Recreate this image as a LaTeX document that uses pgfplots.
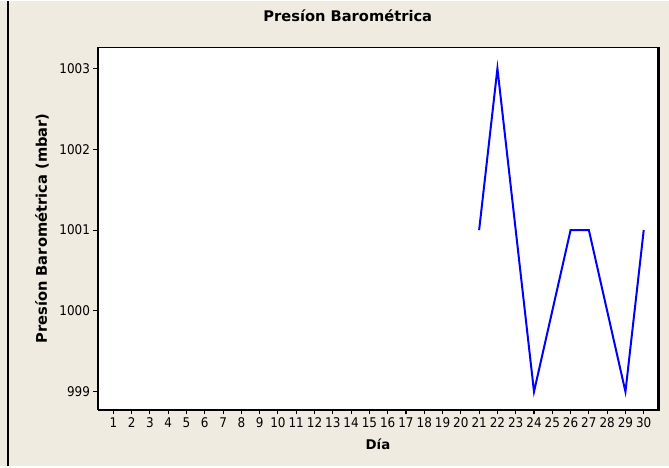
\documentclass[border=0pt]{standalone}
\usepackage{fontspec}
\setmainfont{DejaVu Sans}
\newfontfamily\condfont{DejaVu Sans Condensed}
\usepackage{pgfplots}
\pgfplotsset{compat=1.18}
\usetikzlibrary{backgrounds}
\definecolor{panel}{RGB}{239,235,224}

\pgfplotstableread{
dia presion
21 1001
22 1003
23 1001
24 999
25 1000
26 1001
27 1001
28 1000
29 999
30 1001
}\presion

\begin{document}
\begin{tikzpicture}
\begin{axis}[
    name=ax,
    scale only axis,
    width=420pt, height=271.5pt,
    xmin=0.16, xmax=30.78,
    ymin=998.78, ymax=1003.26,
    xtick={1,...,30},
    ytick={999,1000,1001,1002,1003},
    xtick pos=left, ytick pos=left,
    tick align=outside,
    major tick length=3.5pt,
    tick style={black, line width=0.8pt},
    axis line style={line width=0.9pt},
    axis background/.style={fill=white},
    /pgf/number format/assume math mode=true,
    /pgf/number format/set thousands separator={},
    ticklabel style={font=\condfont\fontsize{10}{12}\selectfont},
    xticklabel style={yshift=1pt},
    yticklabel style={xshift=1pt},
    title={Presíon Barométrica},
    title style={font=\bfseries\fontsize{11}{13}\selectfont,
        at={(axis description cs:0.446,1.066)}, anchor=center},
    xlabel={Día},
    xlabel style={font=\bfseries\fontsize{10}{12}\selectfont,
        at={(axis description cs:0.5,-0.097)}, anchor=center},
    ylabel={Presíon Barométrica (mbar)},
    ylabel style={font=\bfseries\fontsize{11}{13}\selectfont,
        at={(axis description cs:-0.1,0.5)}, anchor=center},
]
\addplot[color={rgb,255:red,0;green,0;blue,255}, line width=1.5pt, mark=none] table[x=dia, y=presion] {\presion};
\end{axis}
% shadow on right and bottom of the plot frame
\draw[line width=1.2pt] ([xshift=0.9pt]ax.north east) -- ([xshift=0.9pt,yshift=-0.9pt]ax.south east) -- ([yshift=-0.9pt]ax.south west);
\begin{pgfonlayer}{background}
\fill[panel] ([xshift=-73.5pt,yshift=-42.75pt]ax.south west) rectangle ([xshift=8.25pt,yshift=34.5pt]ax.north east);
\draw[line width=2.2pt] ([xshift=-67.5pt,yshift=-42.75pt]ax.south west) -- ([xshift=-67.5pt,yshift=34.5pt]ax.north west);
\end{pgfonlayer}
\path[use as bounding box] ([xshift=-73.5pt,yshift=-42.75pt]ax.south west) rectangle ([xshift=8.25pt,yshift=34.5pt]ax.north east);
\end{tikzpicture}
\end{document}
